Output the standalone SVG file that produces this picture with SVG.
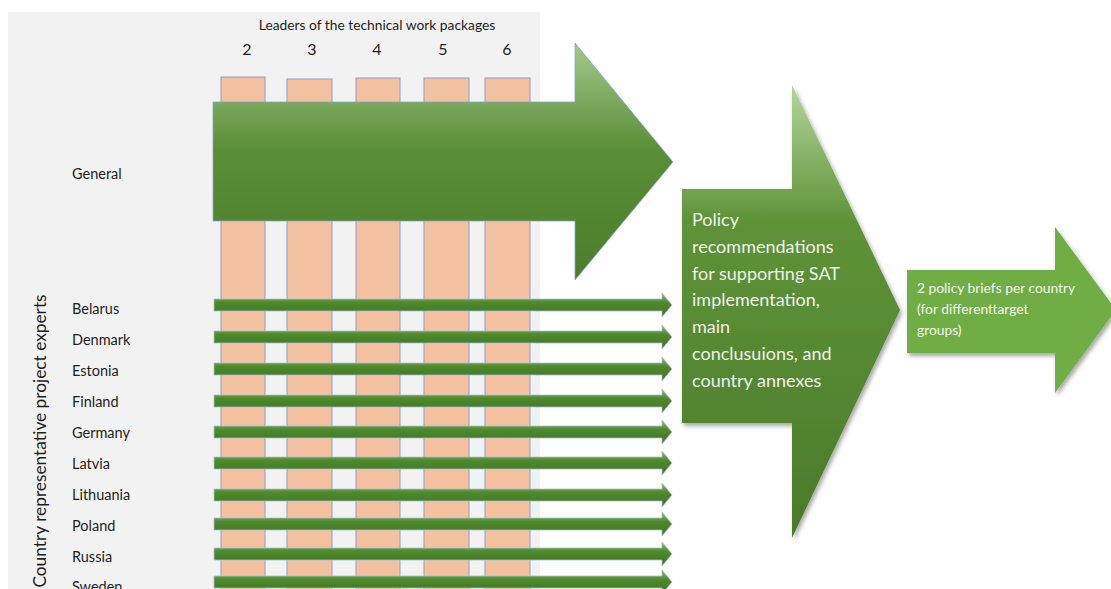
<svg xmlns="http://www.w3.org/2000/svg" width="1111" height="589" viewBox="0 0 1111 589">
<defs>
<style>
text{font-family:Lato,"Liberation Sans",sans-serif;}
.lbl{fill:#1e1e1e;}
.col{fill:#f4c1a0;stroke:#8e9fc6;stroke-width:1;}
.small{fill:url(#gSmall);stroke:#a9bcdc;stroke-width:0.8;}
</style>
<linearGradient id="gBig" x1="0" y1="0" x2="0" y2="1">
<stop offset="0" stop-color="#a4c98c"/>
<stop offset="0.45" stop-color="#5a8e36"/>
<stop offset="1" stop-color="#4c7d2c"/>
</linearGradient>
<linearGradient id="gMid" x1="0" y1="0" x2="0" y2="1">
<stop offset="0" stop-color="#b3d59a"/>
<stop offset="0.3" stop-color="#5f9338"/>
<stop offset="1" stop-color="#4a7b2a"/>
</linearGradient>
<linearGradient id="gSmall" x1="0" y1="0" x2="0" y2="1">
<stop offset="0" stop-color="#8fbb6c"/>
<stop offset="0.4" stop-color="#4e8a2c"/>
<stop offset="1" stop-color="#3f7222"/>
</linearGradient>
<filter id="sh" x="-10%" y="-10%" width="130%" height="130%">
<feDropShadow dx="2" dy="3" stdDeviation="2" flood-color="#000" flood-opacity="0.35"/>
</filter>
<path id="sa" d="M0,-6 L448,-6 L448,-12 L458,0 L448,12 L448,6 L0,6 Z"/>
</defs>

<rect x="8" y="12" width="532" height="577" fill="#f2f2f2"/>

<g id="header">
<text x="377" y="30" text-anchor="middle" class="lbl" font-size="13.8">Leaders of the technical work packages</text>
<g font-size="16">
<text x="247" y="55" text-anchor="middle" class="lbl">2</text>
<text x="312" y="55" text-anchor="middle" class="lbl">3</text>
<text x="377" y="55" text-anchor="middle" class="lbl">4</text>
<text x="443" y="55" text-anchor="middle" class="lbl">5</text>
<text x="507" y="55" text-anchor="middle" class="lbl">6</text>
</g>
</g>

<g id="columns">
<rect class="col" x="221" y="77" width="44" height="520"/>
<rect class="col" x="287" y="79" width="45" height="520"/>
<rect class="col" x="356" y="78" width="44" height="520"/>
<rect class="col" x="424" y="78" width="45" height="520"/>
<rect class="col" x="485" y="78" width="45" height="520"/>
</g>

<g id="row-labels" font-size="14.5">
<text x="72" y="179" class="lbl">General</text>
<text x="72" y="314" class="lbl">Belarus</text>
<text x="72" y="345" class="lbl">Denmark</text>
<text x="72" y="376" class="lbl">Estonia</text>
<text x="72" y="407" class="lbl">Finland</text>
<text x="72" y="438" class="lbl">Germany</text>
<text x="72" y="469" class="lbl">Latvia</text>
<text x="72" y="500" class="lbl">Lithuania</text>
<text x="72" y="531" class="lbl">Poland</text>
<text x="72" y="562" class="lbl">Russia</text>
<text x="72" y="592" class="lbl">Sweden</text>
<text transform="translate(46,441) rotate(-90)" text-anchor="middle" class="lbl" font-size="17.3">Country representative project experts</text>
</g>

<g id="general-arrow">
<path d="M213,102 L575,102 L575,43 L673,162 L575,280 L575,221 L213,221 Z" fill="url(#gBig)" stroke="#8aa6c9" stroke-width="0.8"/>
</g>

<g id="connectors">
<use href="#sa" class="small" transform="translate(214,305)"/>
<use href="#sa" class="small" transform="translate(214,337)"/>
<use href="#sa" class="small" transform="translate(214,369)"/>
<use href="#sa" class="small" transform="translate(214,401)"/>
<use href="#sa" class="small" transform="translate(214,432)"/>
<use href="#sa" class="small" transform="translate(214,463)"/>
<use href="#sa" class="small" transform="translate(214,495)"/>
<use href="#sa" class="small" transform="translate(214,524)"/>
<use href="#sa" class="small" transform="translate(214,554)"/>
<use href="#sa" class="small" transform="translate(214,582)"/>
</g>

<g id="policy-arrow">
<path d="M682,189 L792,189 L792,85 L900,310 L792,538 L792,423 L682,423 Z" fill="url(#gMid)" filter="url(#sh)"/>
<g font-size="18" fill="#eef3ea">
<text x="692" y="226">Policy</text>
<text x="692" y="253">recommendations</text>
<text x="692" y="280">for supporting SAT</text>
<text x="692" y="306">implementation,</text>
<text x="692" y="333">main</text>
<text x="692" y="360">conclusuions, and</text>
<text x="692" y="387">country annexes</text>
</g>
</g>

<g id="briefs-arrow">
<path d="M907,270 L1055,270 L1055,227 L1116,310 L1055,393 L1055,353 L907,353 Z" fill="#6fae45" filter="url(#sh)"/>
<g font-size="13.8" fill="#f4f8ef">
<text x="917" y="293">2 policy briefs per country</text>
<text x="917" y="314">(for differenttarget</text>
<text x="917" y="335">groups)</text>
</g>
</g>
</svg>
